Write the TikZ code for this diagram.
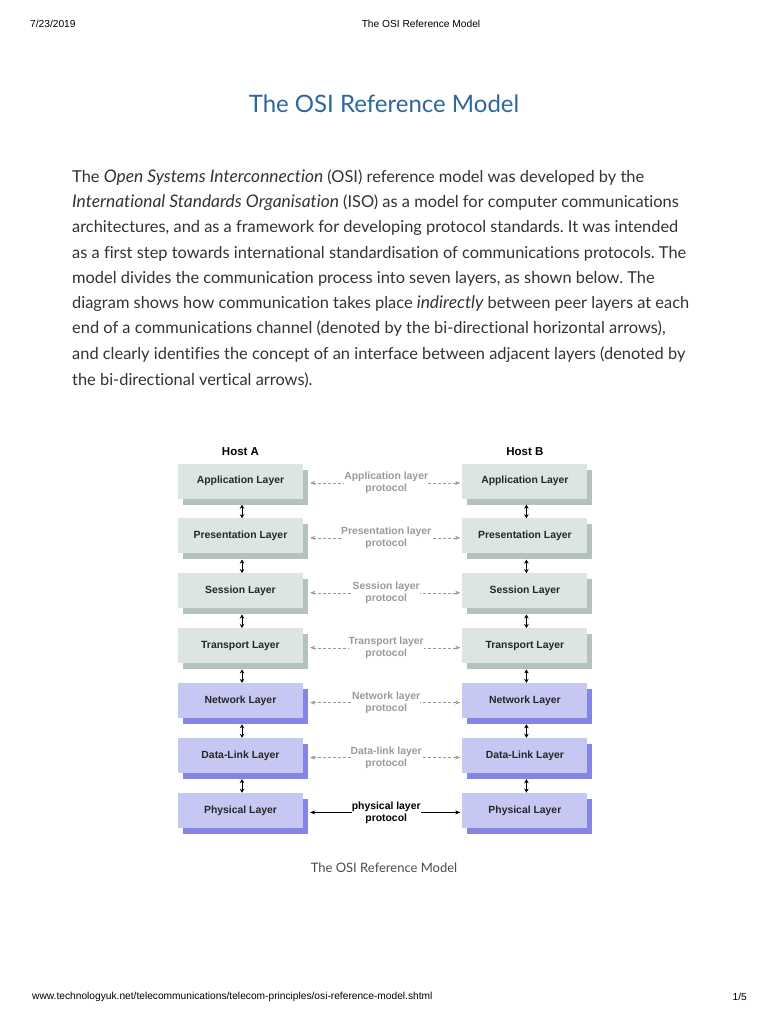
\documentclass[tikz,border=0pt]{standalone}
\usepackage{fontspec}
\setmainfont{Lato}[Ligatures=NoCommon]
\newfontfamily\latoit{Lato}[Scale=1.06,Ligatures=NoCommon]
\newfontfamily\arialfam{Liberation Sans}
\newcommand\slanted[1]{{\latoit\itshape #1}}
\usetikzlibrary{arrows.meta,positioning,shadows}
\definecolor{titleblue}{HTML}{2C67A0}
\definecolor{bodygray}{HTML}{333333}
\definecolor{upperfill}{HTML}{DCE5E2}
\definecolor{uppershade}{HTML}{B3C2BD}
\definecolor{lowerfill}{HTML}{C7C7F3}
\definecolor{lowershade}{HTML}{8585E6}
\definecolor{protogray}{HTML}{9A9A9A}
\tikzset{layer/.style={minimum width=125pt,minimum height=35pt,inner sep=0pt,font=\arialfam\bfseries\fontsize{10.4}{12}\selectfont,text=black!85}, upper/.style={layer,fill=upperfill,general shadow={shadow xshift=5pt,shadow yshift=-6pt,fill=uppershade}}, lower/.style={layer,fill=lowerfill,general shadow={shadow xshift=5pt,shadow yshift=-6pt,fill=lowershade}}, peer/.style={{Stealth[length=5pt,width=4pt]}-{Stealth[length=5pt,width=4pt]},dash pattern=on 3pt off 2pt,draw=protogray,shorten >=2pt}, proto/.style={font=\arialfam\bfseries\fontsize{10.4}{12}\selectfont,text=protogray,align=center,fill=white,inner sep=0pt}, iface/.style={{Stealth[length=4pt,width=4.5pt]}-{Stealth[length=4pt,width=4.5pt]},line width=1pt}, host/.style={font=\arialfam\bfseries\fontsize{11.5}{13}\selectfont}, textline/.style={anchor=west,inner sep=0pt,font=\fontsize{16.4}{20}\selectfont,text=bodygray}, pagehead/.style={inner sep=0pt,font=\arialfam\fontsize{10.2}{11}\selectfont}}

\begin{document}
\frenchspacing
\begin{tikzpicture}[x=1pt,y=-1pt]
\fill[white] (0,0) rectangle (768,1024);
\useasboundingbox (0,0) rectangle (768,1024);
% header and footer of the page
\node[pagehead,anchor=west] (date) at (30,24) {7/23/2019};
\node[pagehead] (head) at (421,24) {The OSI Reference Model};
\node[pagehead,anchor=west] (url) at (32,997) {www.technologyuk.net/telecommunications/telecom-principles/osi-reference-model.shtml};
\node[pagehead,anchor=east] (page) at (747,997) {1/5};
% title and text
\node[font=\fontsize{24}{28}\selectfont,text=titleblue] (title) at (384,104) {The OSI Reference Model};
\node[textline] (l1) at (72,178) {The \slanted{Open Systems Interconnection} (OSI) reference model was developed by the};
\node[textline] (l2) at (72,203) {\slanted{International Standards Organisation} (ISO) as a model for computer communications};
\node[textline] (l3) at (72,228) {architectures, and as a framework for developing protocol standards. It was intended};
\node[textline] (l4) at (72,254) {as a first step towards international standardisation of communications protocols. The};
\node[textline] (l5) at (72,279) {model divides the communication process into seven layers, as shown below. The};
\node[textline] (l6) at (72,304) {diagram shows how communication takes place \slanted{indirectly} between peer layers at each};
\node[textline] (l7) at (72,329) {end of a communications channel (denoted by the bi-directional horizontal arrows),};
\node[textline] (l8) at (72,355) {and clearly identifies the concept of an interface between adjacent layers (denoted by};
\node[textline] (l9) at (72,380) {the bi-directional vertical arrows).};
% host A stack
\node[host] (hosta) at (240.5,452) {Host A};
\node[upper] (a1) at (240.5,481) {Application Layer};
\node[upper,below=19.5pt of a1] (a2) {Presentation Layer};
\node[upper,below=19.5pt of a2] (a3) {Session Layer};
\node[upper,below=19.5pt of a3] (a4) {Transport Layer};
\node[lower,below=19.5pt of a4] (a5) {Network Layer};
\node[lower,below=19.5pt of a5] (a6) {Data-Link Layer};
\node[lower,below=19.5pt of a6] (a7) {Physical Layer};
% host B stack
\node[upper,right=159pt of a1] (b1) {Application Layer};
\node[host] at (b1|-hosta) (hostb) {Host B};
\node[upper,below=19.5pt of b1] (b2) {Presentation Layer};
\node[upper,below=19.5pt of b2] (b3) {Session Layer};
\node[upper,below=19.5pt of b3] (b4) {Transport Layer};
\node[lower,below=19.5pt of b4] (b5) {Network Layer};
\node[lower,below=19.5pt of b5] (b6) {Data-Link Layer};
\node[lower,below=19.5pt of b6] (b7) {Physical Layer};
% peer protocols
\draw[peer] ([xshift=7pt,yshift=-2pt]a1.east) -- node[proto]{Application layer\\protocol} ([yshift=-2pt]b1.west);
\draw[peer] ([xshift=7pt,yshift=-2pt]a2.east) -- node[proto]{Presentation layer\\protocol} ([yshift=-2pt]b2.west);
\draw[peer] ([xshift=7pt,yshift=-2pt]a3.east) -- node[proto]{Session layer\\protocol} ([yshift=-2pt]b3.west);
\draw[peer] ([xshift=7pt,yshift=-2pt]a4.east) -- node[proto]{Transport layer\\protocol} ([yshift=-2pt]b4.west);
\draw[peer] ([xshift=7pt,yshift=-2pt]a5.east) -- node[proto]{Network layer\\protocol} ([yshift=-2pt]b5.west);
\draw[peer] ([xshift=7pt,yshift=-2pt]a6.east) -- node[proto]{Data-link layer\\protocol} ([yshift=-2pt]b6.west);
\draw[peer,solid,draw=black] ([xshift=7pt,yshift=-2pt]a7.east) -- node[proto,text=black]{physical layer\\protocol} ([yshift=-2pt]b7.west);
% interfaces
\draw[iface] ([xshift=1.5pt,yshift=-6pt]a1.south) -- ([xshift=1.5pt]a2.north);
\draw[iface] ([xshift=1.5pt,yshift=-6pt]a2.south) -- ([xshift=1.5pt]a3.north);
\draw[iface] ([xshift=1.5pt,yshift=-6pt]a3.south) -- ([xshift=1.5pt]a4.north);
\draw[iface] ([xshift=1.5pt,yshift=-6pt]a4.south) -- ([xshift=1.5pt]a5.north);
\draw[iface] ([xshift=1.5pt,yshift=-6pt]a5.south) -- ([xshift=1.5pt]a6.north);
\draw[iface] ([xshift=1.5pt,yshift=-6pt]a6.south) -- ([xshift=1.5pt]a7.north);
\draw[iface] ([xshift=1.5pt,yshift=-6pt]b1.south) -- ([xshift=1.5pt]b2.north);
\draw[iface] ([xshift=1.5pt,yshift=-6pt]b2.south) -- ([xshift=1.5pt]b3.north);
\draw[iface] ([xshift=1.5pt,yshift=-6pt]b3.south) -- ([xshift=1.5pt]b4.north);
\draw[iface] ([xshift=1.5pt,yshift=-6pt]b4.south) -- ([xshift=1.5pt]b5.north);
\draw[iface] ([xshift=1.5pt,yshift=-6pt]b5.south) -- ([xshift=1.5pt]b6.north);
\draw[iface] ([xshift=1.5pt,yshift=-6pt]b6.south) -- ([xshift=1.5pt]b7.north);
% caption
\node[font=\fontsize{13}{15}\selectfont,text=black!70] (caption) at (384,868) {The OSI Reference Model};
\end{tikzpicture}
\end{document}
